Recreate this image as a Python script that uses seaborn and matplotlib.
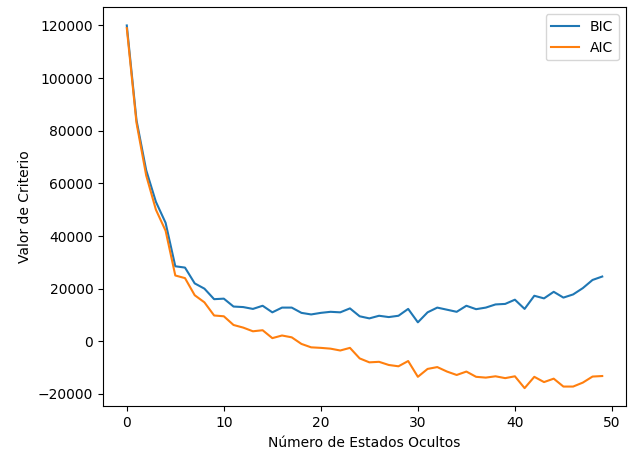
import numpy as np
import pandas as pd
import matplotlib
matplotlib.use("Agg")
import matplotlib.pyplot as plt
import seaborn as sns

n_states = list(range(50))

bic = [120000, 84000, 65000, 53000, 45000, 28500, 28000, 22000, 20000, 16000,
       16200, 13200, 13000, 12300, 13500, 11000, 12800, 12800, 10800, 10200,
       10800, 11200, 11000, 12500, 9500, 8700, 9700, 9200, 9700, 12300,
       7200, 11000, 12800, 12000, 11200, 13500, 12200, 12800, 14000, 14200,
       15800, 12300, 17300, 16300, 18800, 16600, 17800, 20200, 23300, 24600]

aic = [119000, 83000, 63000, 50000, 42000, 25000, 24000, 17500, 14800, 9800,
       9500, 6200, 5200, 3800, 4200, 1200, 2200, 1500, -1000, -2300,
       -2500, -2800, -3500, -2500, -6500, -8000, -7800, -9000, -9500, -7500,
       -13500, -10500, -9800, -11500, -12800, -11500, -13500, -13800, -13300, -14000,
       -13300, -17800, -13500, -15500, -14200, -17200, -17200, -15700, -13400, -13200]

df = pd.DataFrame({"n": n_states, "BIC": bic, "AIC": aic})

fig, ax = plt.subplots(figsize=(6.32, 4.57), dpi=100)
sns.lineplot(data=df, x="n", y="BIC", label="BIC", ax=ax)
sns.lineplot(data=df, x="n", y="AIC", label="AIC", ax=ax)
ax.set_xlabel("Número de Estados Ocultos")
ax.set_ylabel("Valor de Criterio")
ax.legend(loc="upper right")
plt.subplots_adjust(left=0.163, right=0.9905, top=0.984, bottom=0.111)
plt.savefig("out.png", dpi=100)
